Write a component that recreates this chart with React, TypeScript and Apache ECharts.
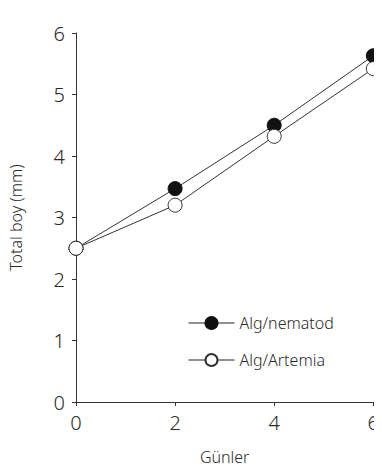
import React, { useEffect, useRef } from "react";
import * as echarts from "echarts";

const days = [0, 2, 4, 6];
const nematod = [2.5, 3.47, 4.5, 5.63];
const artemia = [2.5, 3.2, 4.32, 5.42];
const seriesNames = ["Alg/nematod", "Alg/Artemia"];
const xTitle = "Günler";
const yTitle = "Total boy (mm)";

const FONT = "'Noto Sans', sans-serif";
const INK = "#333333";
const LABEL = "#2a2a2a";

export default function App() {
  const ref = useRef<HTMLDivElement>(null);
  useEffect(() => {
    if (!ref.current) return;
    const chart = echarts.init(ref.current, undefined, { renderer: "svg" });
    const toPts = (arr: number[]) => days.map((d, i) => [d, arr[i]]);
    chart.setOption({
      animation: false,
      backgroundColor: "#ffffff",
      textStyle: { fontFamily: FONT },
      grid: { left: 73, right: 0, top: 33, bottom: 73 },
      legend: {
        orient: "vertical",
        left: 183,
        top: 310,
        itemWidth: 46,
        itemHeight: 15,
        itemGap: 21,
        textStyle: { fontSize: 16, color: LABEL, fontFamily: FONT, fontWeight: 300 },
        lineStyle: { width: 1, color: "#222222", opacity: 1 },
        data: seriesNames,
      },
      xAxis: {
        type: "value",
        min: 0,
        max: 6,
        interval: 2,
        name: xTitle,
        nameLocation: "middle",
        nameGap: 47,
        nameTextStyle: { fontSize: 16, color: LABEL, fontWeight: 300 },
        axisLine: { lineStyle: { color: INK, width: 1 } },
        axisTick: { show: true, length: 4, lineStyle: { color: INK } },
        axisLabel: { fontSize: 20, color: LABEL, margin: 10, fontWeight: 300 },
        splitLine: { show: false },
      },
      yAxis: {
        type: "value",
        min: 0,
        max: 6,
        interval: 1,
        name: yTitle,
        nameLocation: "middle",
        nameGap: 52,
        nameTextStyle: { fontSize: 16, color: LABEL, fontWeight: 300 },
        axisLine: { show: true, lineStyle: { color: INK, width: 1 } },
        axisTick: { show: true, length: 4, lineStyle: { color: INK } },
        axisLabel: { fontSize: 20, color: LABEL, margin: 11, fontWeight: 300 },
        splitLine: { show: false },
      },
      series: [
        {
          name: seriesNames[0],
          type: "line",
          data: toPts(nematod),
          symbol: "circle",
          symbolSize: 14,
          clip: false,
          lineStyle: { color: INK, width: 1 },
          itemStyle: { color: "#111111", borderColor: "#111111", borderWidth: 1 },
        },
        {
          name: seriesNames[1],
          type: "line",
          data: toPts(artemia),
          symbol: "circle",
          symbolSize: 14,
          clip: false,
          lineStyle: { color: INK, width: 1 },
          itemStyle: { color: "#ffffff", borderColor: INK, borderWidth: 1 },
        },
      ],
    });
    return () => chart.dispose();
  }, []);
  return <div ref={ref} style={{ width: 382, height: 475, margin: -8 }} />;
}
